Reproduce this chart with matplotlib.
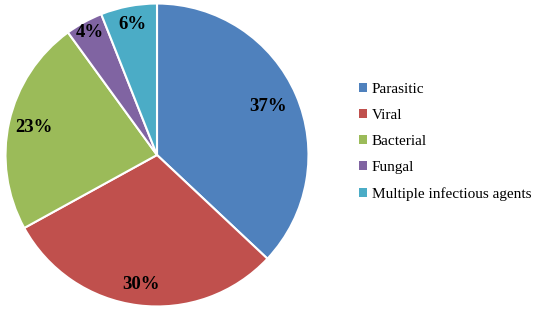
import numpy as np
import matplotlib
matplotlib.use('Agg')
import matplotlib.pyplot as plt
from matplotlib.patches import Patch

labels = ['Parasitic', 'Viral', 'Bacterial', 'Fungal', 'Multiple infectious agents']
shares = [37, 30, 23, 4, 6]
colors = ['#4F81BD', '#C0504D', '#9BBB59', '#8064A2', '#4BACC6']
# radial position of each percentage label (fraction of radius)
label_dist = [0.80, 0.86, 0.83, 0.92, 0.88]

plt.rcParams['font.family'] = ['Liberation Serif', 'DejaVu Serif']

fig = plt.figure(figsize=(5.36, 3.11), dpi=100)
ax = fig.add_axes([4 / 536, 3 / 311, 306 / 536, 306 / 311])

wedges, _ = ax.pie(shares, colors=colors, startangle=90, counterclock=False,
                   wedgeprops=dict(edgecolor='white', linewidth=1.5))

for w, val, d in zip(wedges, shares, label_dist):
    ang = np.deg2rad((w.theta1 + w.theta2) / 2)
    ax.text(d * np.cos(ang), d * np.sin(ang), f'{val}%', ha='center', va='center',
            fontsize=13.5, fontweight='bold', color='black')

ax.set_xlim(-1.01, 1.01)
ax.set_ylim(-1.01, 1.01)
ax.set_aspect('equal')
ax.axis('off')

handles = [Patch(facecolor=c, edgecolor='none') for c in colors]
fig.legend(handles, labels, loc='center left', bbox_to_anchor=(345 / 536, 1 - 142 / 311),
           frameon=False, fontsize=11, handlelength=0.55, handleheight=0.55,
           handletextpad=0.3, labelspacing=0.86)

fig.savefig('out.png', dpi=100)
